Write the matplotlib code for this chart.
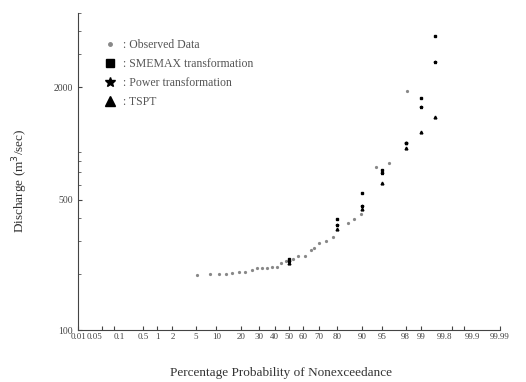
import numpy as np
import matplotlib
matplotlib.use("Agg")
import matplotlib.pyplot as plt
from statistics import NormalDist

# datos
obs_p = [5.3, 8.2, 10.8, 13.3, 15.7, 18.8, 21.8, 25.6, 28.5, 31.5, 34.7, 38.0, 41.3, 44.1,
         48.2, 53.1, 56.6, 61.4, 65.3, 67.3, 70.3, 74.4, 78.2, 85.1, 87.4, 89.8, 93.7, 96.1, 98.1]
obs_q = [197, 200, 200, 200, 202, 205, 205, 210, 215, 215, 215, 218, 218, 229,
         234, 240, 249, 249, 269, 275, 293, 300, 315, 375, 394, 419, 748, 785, 1910]

ret_p = [50, 80, 90, 95, 98, 99, 99.5]
smemax_q = [240, 394, 542, 720, 1005, 1751, 3765]
power_q = [234, 365, 462, 695, 1005, 1567, 2730]
tspt_q = [229, 348, 446, 614, 946, 1151, 1386]

xticks = [0.01, 0.05, 0.1, 0.5, 1, 2, 5, 10, 20, 30, 40, 50, 60, 70, 80, 90, 95, 98, 99, 99.8, 99.9, 99.99]
xticklabels = ["0.01", "0.05", "0.1", "0.5", "1", "2", "5", "10", "20", "30", "40", "50", "60",
               "70", "80", "90", "95", "98", "99", "99.8", "99.9", "99.99"]
yticks = [100, 500, 2000]

# escala de probabilidad normal
nd = NormalDist()
_ppf = np.vectorize(lambda v: nd.inv_cdf(v / 100.0), otypes=[float])
_cdf = np.vectorize(lambda v: nd.cdf(v) * 100.0, otypes=[float])
def fwd(p):
    p = np.clip(np.asarray(p, dtype=float), 1e-7, 100 - 1e-7)
    return _ppf(p)
def inv(z):
    return _cdf(np.asarray(z, dtype=float))

plt.rcParams['font.family'] = ['Liberation Serif', 'DejaVu Serif']

fig = plt.figure(figsize=(5.26, 3.82), dpi=100)
ax = fig.add_axes([78/526, 1 - 330/382, 422/526, 317/382])

ax.plot(obs_p, obs_q, 'o', ms=1.3, color='#888888', label=': Observed Data')
ax.plot(ret_p, smemax_q, 's', ms=1.8, color='black', label=': SMEMAX transformation')
ax.plot(ret_p, power_q, '*', ms=2.4, color='black', label=': Power transformation')
ax.plot(ret_p, tspt_q, '^', ms=2.0, color='black', label=': TSPT')

ax.set_xscale('function', functions=(fwd, inv))
ax.set_yscale('log')
ax.set_xlim(0.01, 99.99)
ax.set_ylim(100, 5000)

ax.set_xticks(xticks)
ax.set_xticklabels(xticklabels)
ax.xaxis.set_minor_locator(matplotlib.ticker.NullLocator())
ax.set_yticks(yticks)
ax.set_yticklabels([str(v) for v in yticks])
ax.yaxis.set_minor_formatter(matplotlib.ticker.NullFormatter())

ax.spines['top'].set_visible(False)
ax.spines['right'].set_visible(False)
ax.spines['left'].set_color('#444444')
ax.spines['bottom'].set_color('#444444')
ax.tick_params(direction='in', labelsize=7, colors='#444444', length=3)
ax.tick_params(which='minor', direction='in', length=2, colors='#555555')
ax.tick_params(axis='x', pad=2, labelsize=6.5)

# etiquetas apretadas: se separan un poco
for lab in ax.get_xticklabels():
    if lab.get_text() in ("0.05", "99.8"):
        lab.set_horizontalalignment('right')
    elif lab.get_text() in ("0.1", "99.9"):
        lab.set_horizontalalignment('left')

ax.set_xlabel('Percentage Probability of Nonexceedance', fontsize=9.5, color='#333333')
ax.set_ylabel('Discharge (m$^3$/sec)', fontsize=9.5, color='#333333')
ax.xaxis.set_label_coords(0.48, -0.117)
ax.yaxis.set_label_coords(-0.114, 0.47)

leg = ax.legend(loc='upper left', bbox_to_anchor=(0.042, 0.945), frameon=False, fontsize=8.5,
                handlelength=1.0, handletextpad=0.6, labelspacing=0.6,
                borderpad=0.2, labelcolor='#555555')
for h, s in zip(leg.legend_handles, [2.5, 6, 7.5, 6.5]):
    h.set_markersize(s)

plt.savefig('out.png', dpi=100)
